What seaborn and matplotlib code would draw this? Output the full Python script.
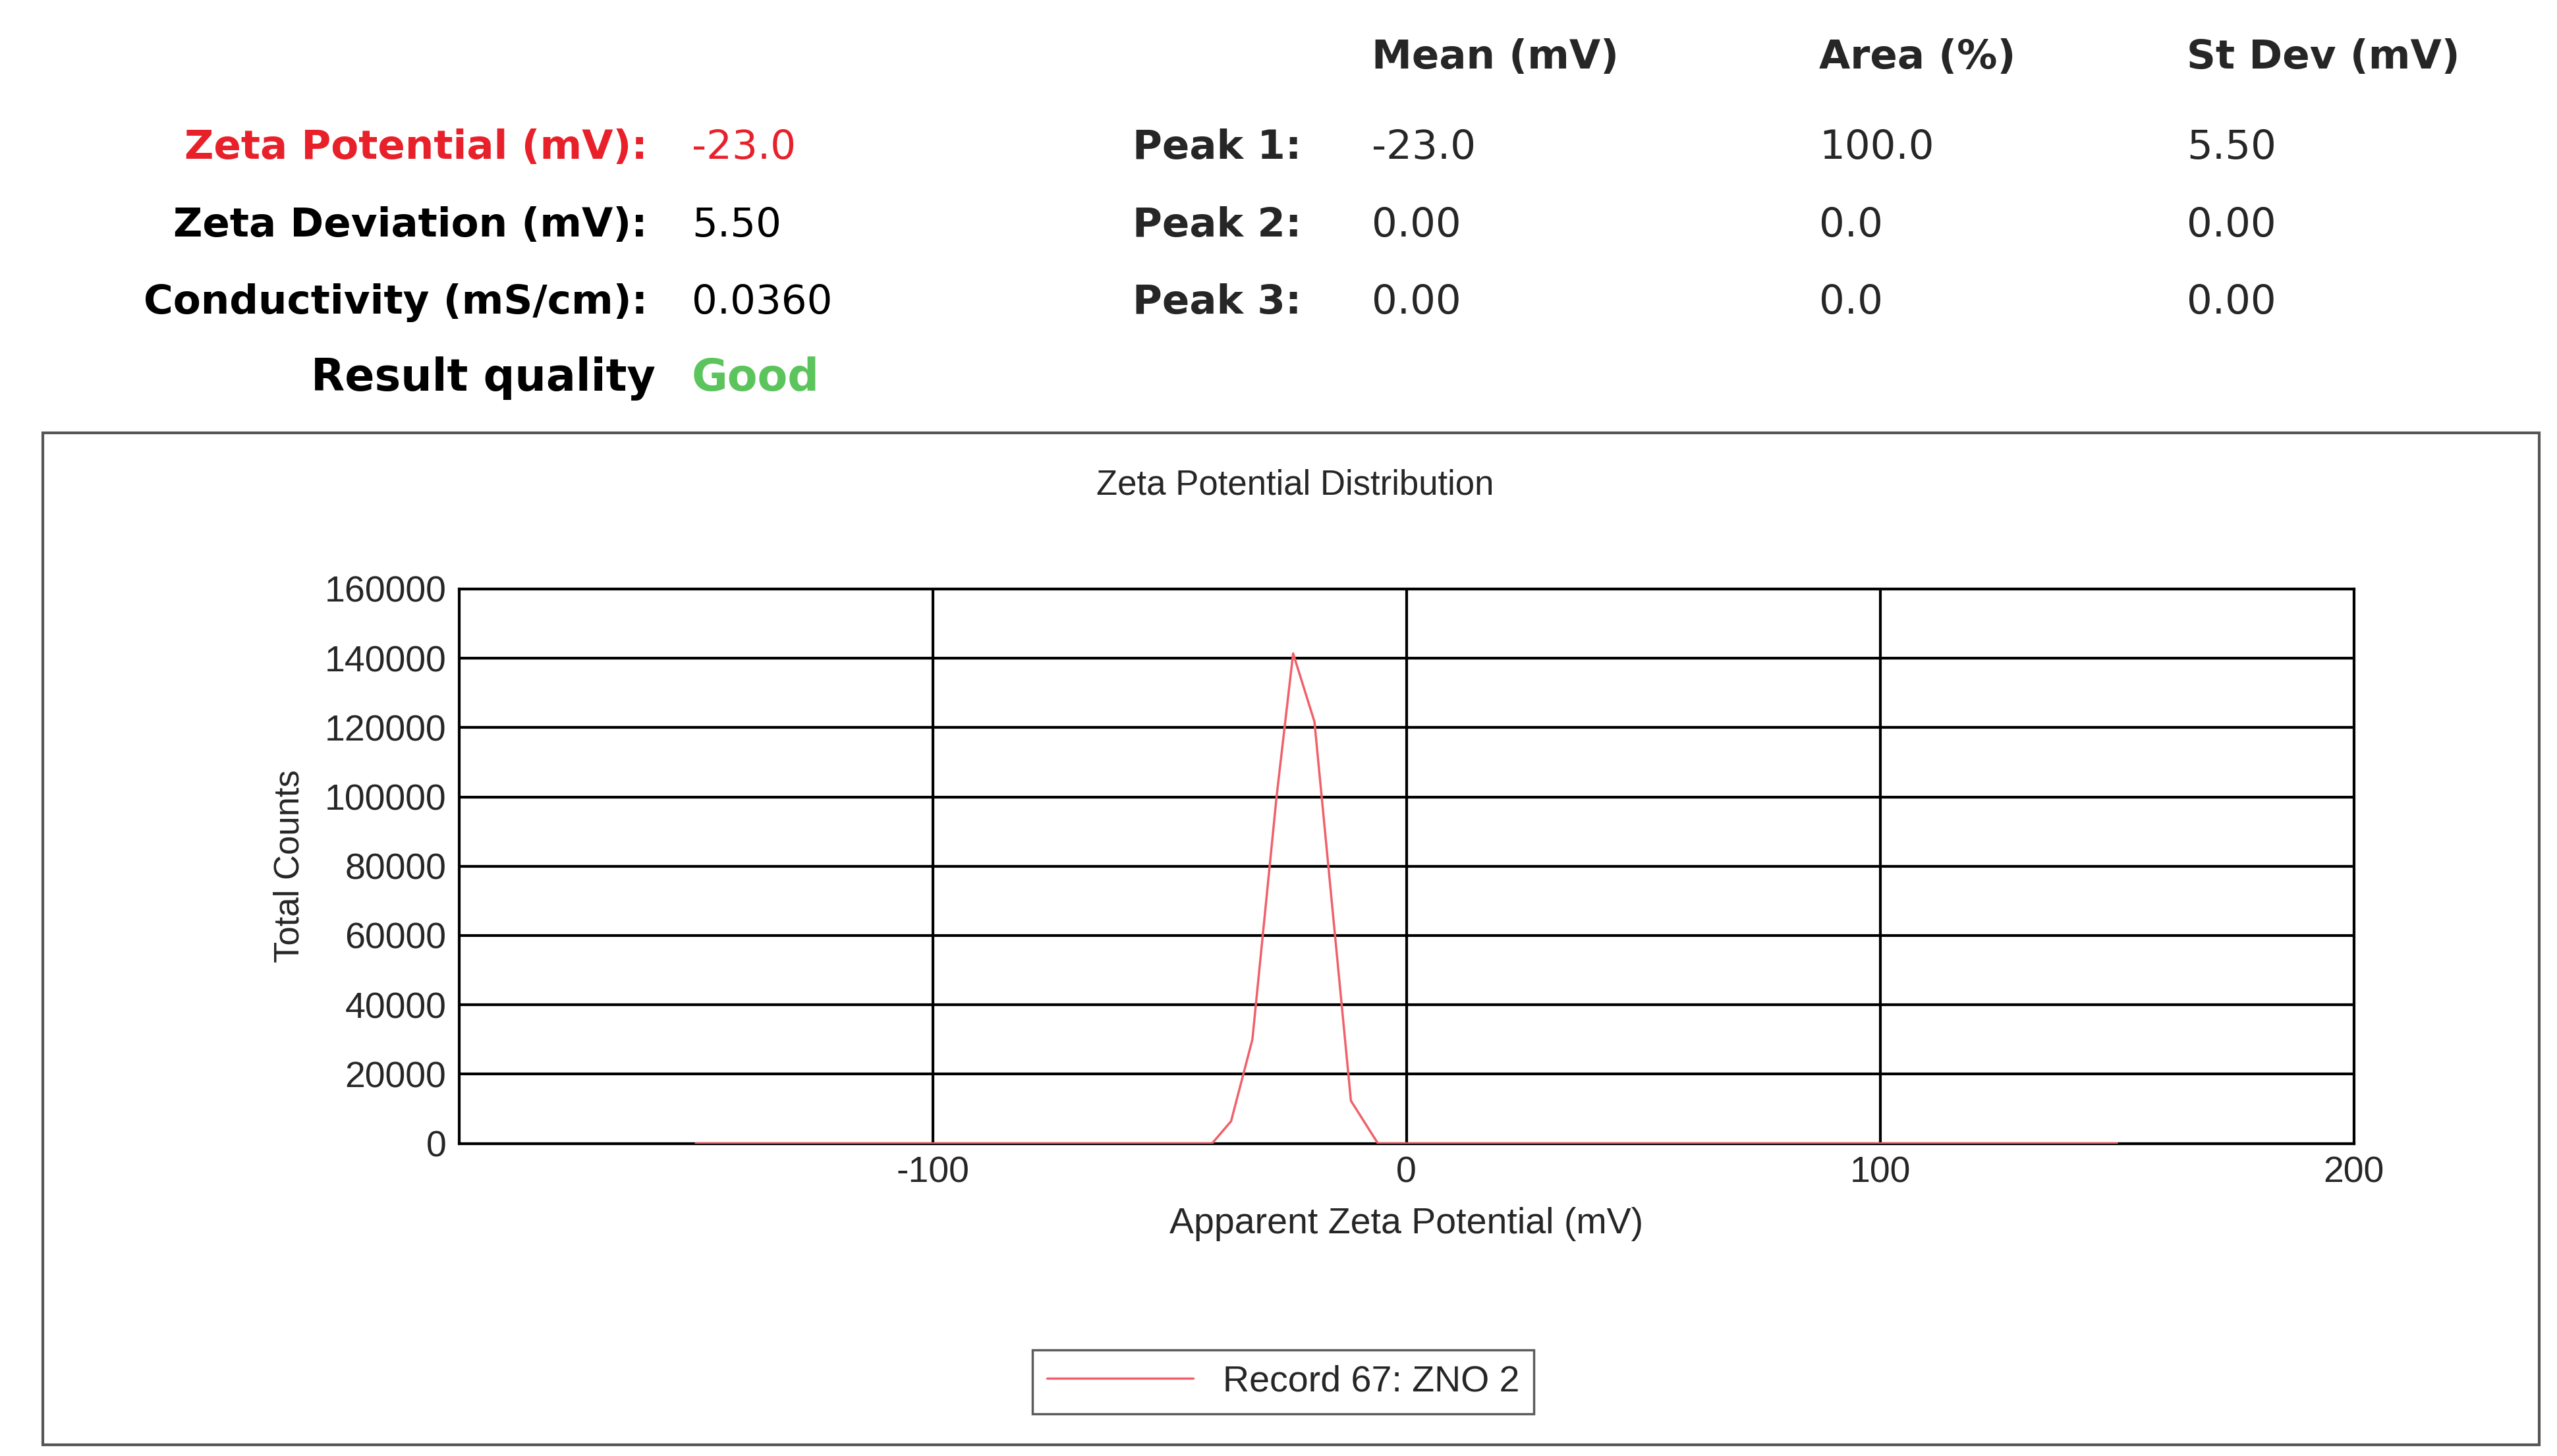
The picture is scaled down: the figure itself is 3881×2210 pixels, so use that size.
import matplotlib
matplotlib.use("Agg")
import matplotlib.pyplot as plt
import seaborn as sns
import pandas as pd
from matplotlib.patches import Rectangle
from matplotlib.ticker import MultipleLocator

sns.set_style("white")
plt.rcParams['font.family'] = ['Liberation Sans', 'DejaVu Sans']
plt.rcParams['axes.unicode_minus'] = False

zeta_mv = [-150, -60, -41, -37, -32.5, -27.4, -23.9, -19.4, -11.7, -6, 0, 150]
counts = [0, 0, 0, 6400, 30000, 100000, 141400, 121700, 12300, 0, 0, 0]
header_cols = ["Mean (mV)", "Area (%)", "St Dev (mV)"]
peak_labels = ["Peak 1:", "Peak 2:", "Peak 3:"]
peak_mean = ["-23.0", "0.00", "0.00"]
peak_area = ["100.0", "0.0", "0.0"]
peak_sd = ["5.50", "0.00", "0.00"]
left_labels = ["Zeta Potential (mV):", "Zeta Deviation (mV):", "Conductivity (mS/cm):", "Result quality"]
left_values = ["-23.0", "5.50", "0.0360", "Good"]

W, H = 1560, 885
fig = plt.figure(figsize=(38.81, 22.10), dpi=100)
fx = lambda x: x / W
fy = lambda y: 1 - y / H

hf = dict(family=['DejaVu Sans'], fontsize=44, va='center')
for x, t in zip([837, 1110, 1334], header_cols):
    fig.text(fx(x), fy(35), t, weight='bold', **hf)
rows = [90, 137, 184, 230]
lcol = ['#e8202a', 'black', 'black', 'black']
vcol = ['#e8202a', 'black', 'black', '#5cc45c']
for i, (lab, val) in enumerate(zip(left_labels, left_values)):
    fs = 48 if i == 3 else 44
    fig.text(fx(395 if i < 3 else 400), fy(rows[i]), lab, ha='right', weight='bold', color=lcol[i],
             family=['DejaVu Sans'], fontsize=fs, va='center')
    fig.text(fx(422), fy(rows[i]), val, color=vcol[i], weight='bold' if i == 3 else 'normal',
             family=['DejaVu Sans'], fontsize=fs, va='center')
for i in range(3):
    fig.text(fx(691), fy(rows[i]), peak_labels[i], weight='bold', **hf)
    fig.text(fx(837), fy(rows[i]), peak_mean[i], **hf)
    fig.text(fx(1110), fy(rows[i]), peak_area[i], **hf)
    fig.text(fx(1334), fy(rows[i]), peak_sd[i], **hf)

fig.patches.append(Rectangle((fx(26), fy(878)), fx(1549 - 26), (878 - 263) / H,
                             transform=fig.transFigure, fill=False, lw=3, ec='#555555'))
fig.text(fx(790), fy(295), "Zeta Potential Distribution", fontsize=38, ha='center', va='center')

ax = fig.add_axes([fx(280), fy(695), fx(1436 - 280), (695 - 358) / H])
df = pd.DataFrame({"mv": zeta_mv, "counts": counts})
sns.lineplot(data=df, x="mv", y="counts", ax=ax, color='#f0606a', lw=2.5, label="Record 67: ZNO 2",
             zorder=5)
ax.set_xlim(-200, 200)
ax.set_ylim(0, 160000)
ax.xaxis.set_major_locator(MultipleLocator(100))
ax.xaxis.set_minor_locator(MultipleLocator(50))
ax.yaxis.set_major_locator(MultipleLocator(20000))
ax.yaxis.set_minor_locator(MultipleLocator(10000))
ax.grid(True, which='major', color='black', lw=3)
for s in ax.spines.values():
    s.set_color('black'); s.set_linewidth(3)
ax.tick_params(which='both', direction='inout', color='#444444', width=3)
ax.tick_params(which='major', length=0, labelsize=40, pad=14)
ax.tick_params(which='minor', length=20)
ax.set_xticks([-100, 0, 100, 200])
ax.set_xlabel("Apparent Zeta Potential (mV)", fontsize=40, labelpad=18)
ax.set_ylabel("Total Counts", fontsize=38, labelpad=20)
leg = ax.legend(loc='upper center', bbox_to_anchor=(0.435, -0.34), fontsize=40, frameon=True,
                fancybox=False, edgecolor='#333333', handlelength=4)
leg.get_frame().set_linewidth(2.5)
fig.savefig("out.png", dpi=100, facecolor='white')
